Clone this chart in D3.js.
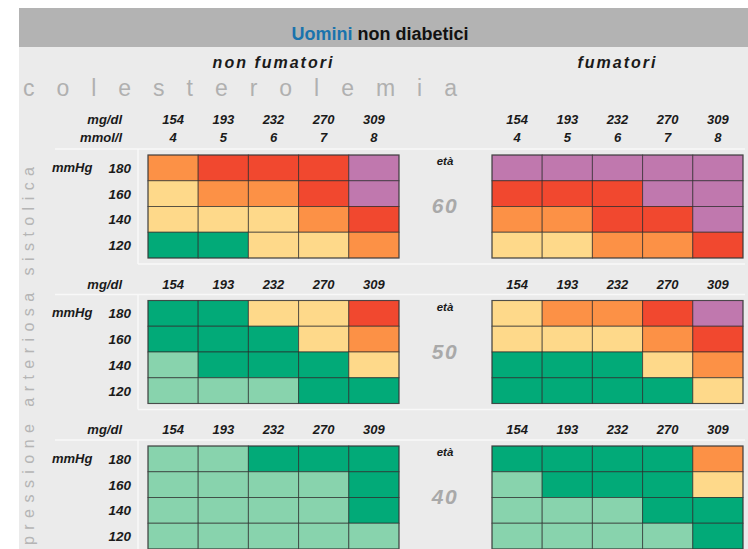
<!DOCTYPE html>
<html><head><meta charset="utf-8">
<script src="https://cdn.jsdelivr.net/npm/d3@7"></script>
<style>body{margin:0;background:#fff} svg{display:block}</style>
</head><body>
<svg id="c" width="748" height="549"></svg>
<script>
// ---- data ----
const cholMgdl = ["154","193","232","270","309"];
const cholMmol = ["4","5","6","7","8"];
const sbp = ["180","160","140","120"];
const ages = ["60","50","40"];
const smoking = ["non fumatori","fumatori"];
const riskLevels = [1,2,3,4,5,6];
const riskColors = ["#88d3ad","#02aa78","#fed98a","#fc9146","#f1482f","#c078ae"];
// risk class per cell: rows = SBP 180..120, cols = cholesterol 154..309
const risk60NonSmoker = [[4,5,5,5,6],[3,4,4,5,6],[3,3,3,4,5],[2,2,3,3,4]];
const risk60Smoker    = [[6,6,6,6,6],[5,5,5,6,6],[4,4,5,5,6],[3,3,4,4,5]];
const risk50NonSmoker = [[2,2,3,3,5],[2,2,2,3,4],[1,2,2,2,3],[1,1,1,2,2]];
const risk50Smoker    = [[3,4,4,5,6],[3,3,3,4,5],[2,2,2,3,4],[2,2,2,2,3]];
const risk40NonSmoker = [[1,1,2,2,2],[1,1,1,1,2],[1,1,1,1,2],[1,1,1,1,1]];
const risk40Smoker    = [[2,2,2,2,4],[1,2,2,2,3],[1,1,1,2,2],[1,1,1,1,2]];

const panels = [
  {age:"60", smk:"non fumatori", m:risk60NonSmoker},
  {age:"60", smk:"fumatori", m:risk60Smoker},
  {age:"50", smk:"non fumatori", m:risk50NonSmoker},
  {age:"50", smk:"fumatori", m:risk50Smoker},
  {age:"40", smk:"non fumatori", m:risk40NonSmoker},
  {age:"40", smk:"fumatori", m:risk40Smoker}
];

const svg = d3.select("#c");
const FONT = "'Liberation Sans', Arial, sans-serif";

// scales
const color = d3.scaleOrdinal().domain(riskLevels).range(riskColors);
const xGroup = d3.scaleOrdinal().domain(smoking).range([148, 492]);
const gridW = 251, gridH = 103;
const xCell = d3.scaleBand().domain(cholMgdl).range([0, gridW]);
const yGroup = d3.scalePoint().domain(ages).range([155, 446]);
const yCell = d3.scaleBand().domain(sbp).range([0, gridH]);

// backgrounds
svg.append("rect").attr("x",19).attr("y",8).attr("width",729).attr("height",541).attr("fill","#ebebeb");
svg.append("rect").attr("x",19).attr("y",8).attr("width",729).attr("height",39).attr("fill","#b3b3b3");

// title
const t = svg.append("text").attr("x",380).attr("y",40).attr("text-anchor","middle")
  .attr("font-family",FONT).attr("font-size",18).attr("font-weight","bold");
t.append("tspan").attr("fill","#1a73ad").text("Uomini");
t.append("tspan").attr("fill","#111").text(" non diabetici");

// smoking headers
svg.selectAll("text.smk").data(smoking).join("text").attr("class","smk")
  .attr("x", d => xGroup(d) + gridW/2).attr("y", 68).attr("text-anchor","middle")
  .attr("font-family",FONT).attr("font-size",16).attr("font-weight","bold").attr("font-style","italic")
  .attr("letter-spacing",2).attr("fill","#1a1a1a").text(d => d);

// colesterolemia
svg.append("text").attr("x",23).attr("y",96).attr("font-family",FONT).attr("font-size",23)
  .attr("fill","#b0b0b0").attr("textLength",434).attr("lengthAdjust","spacing").text("colesterolemia");

// vertical label
svg.append("text").attr("transform","translate(34,545) rotate(-90)")
  .attr("font-family",FONT).attr("font-size",16).attr("fill","#b5b5b5")
  .attr("textLength",378).attr("lengthAdjust","spacing").text("pressione arteriosa sistolica");

// separator lines per age group
ages.forEach(a => {
  const top = yGroup(a);
  svg.append("line").attr("x1",55).attr("x2",745).attr("y1",top-6).attr("y2",top-6)
    .attr("stroke","#f8f8f8").attr("stroke-width",1.5);
  svg.append("line").attr("x1",138).attr("x2",138).attr("y1",top-6).attr("y2",top+109)
    .attr("stroke","#f8f8f8").attr("stroke-width",1.5);
  svg.append("line").attr("x1",138).attr("x2",745).attr("y1",top+109).attr("y2",top+109)
    .attr("stroke","#f8f8f8").attr("stroke-width",1.5);
});

const lab = (sel) => sel.attr("font-family",FONT).attr("font-weight","bold").attr("font-style","italic").attr("fill","#1a1a1a");

// column headers and row labels
ages.forEach((a, ai) => {
  const top = yGroup(a);
  const first = ai === 0;
  const y1 = first ? top - 31 : top - 12;
  smoking.forEach(s => {
    const g = svg.append("g").attr("transform",`translate(${xGroup(s)},0)`);
    lab(g.selectAll("text.mg").data(cholMgdl).join("text").attr("class","mg")
      .attr("x", d => xCell(d) + xCell.bandwidth()/2).attr("y", y1)
      .attr("text-anchor","middle").attr("font-size",13).text(d => d));
    if (first) {
      lab(g.selectAll("text.mm").data(cholMmol).join("text").attr("class","mm")
        .attr("x", (d,i) => xCell(cholMgdl[i]) + xCell.bandwidth()/2).attr("y", top - 13)
        .attr("text-anchor","middle").attr("font-size",13).text(d => d));
    }
  });
  lab(svg.append("text").attr("x",122).attr("y",y1).attr("text-anchor","end").attr("font-size",13).text("mg/dl"));
  if (first) lab(svg.append("text").attr("x",122).attr("y",top-13).attr("text-anchor","end").attr("font-size",13).text("mmol/l"));
  // row labels
  lab(svg.selectAll(null).data(sbp).join("text")
    .attr("x",131).attr("y", d => top + yCell(d) + yCell.bandwidth()/2 + 5)
    .attr("text-anchor","end").attr("font-size",13.5).text(d => d));
  lab(svg.append("text").attr("x",52).attr("y", top + yCell.bandwidth()/2 + 4).attr("font-size",13).text("mmHg"));
  // age labels
  lab(svg.append("text").attr("x",445).attr("y",top+10).attr("text-anchor","middle").attr("font-size",11.5).text("età"));
  svg.append("text").attr("x",445).attr("y",top+58).attr("text-anchor","middle")
    .attr("font-family",FONT).attr("font-weight","bold").attr("font-style","italic")
    .attr("font-size",21).attr("letter-spacing",1.5).attr("fill","#a9a9a9").text(a);
});

// cells
panels.forEach(p => {
  const g = svg.append("g").attr("transform",`translate(${xGroup(p.smk)},${yGroup(p.age)})`);
  const cells = [];
  p.m.forEach((row, ri) => row.forEach((v, ci) => cells.push({r:sbp[ri], c:cholMgdl[ci], v})));
  g.selectAll("rect").data(cells).join("rect")
    .attr("x", d => xCell(d.c)).attr("y", d => yCell(d.r))
    .attr("width", xCell.bandwidth()).attr("height", yCell.bandwidth())
    .attr("fill", d => color(d.v))
    .attr("stroke","rgba(40,40,40,0.65)").attr("stroke-width",1);
  g.append("rect").attr("x",0).attr("y",0).attr("width",gridW).attr("height",gridH)
    .attr("fill","none").attr("stroke","rgba(60,60,60,0.6)").attr("stroke-width",1.2);
});
</script>
</body></html>
